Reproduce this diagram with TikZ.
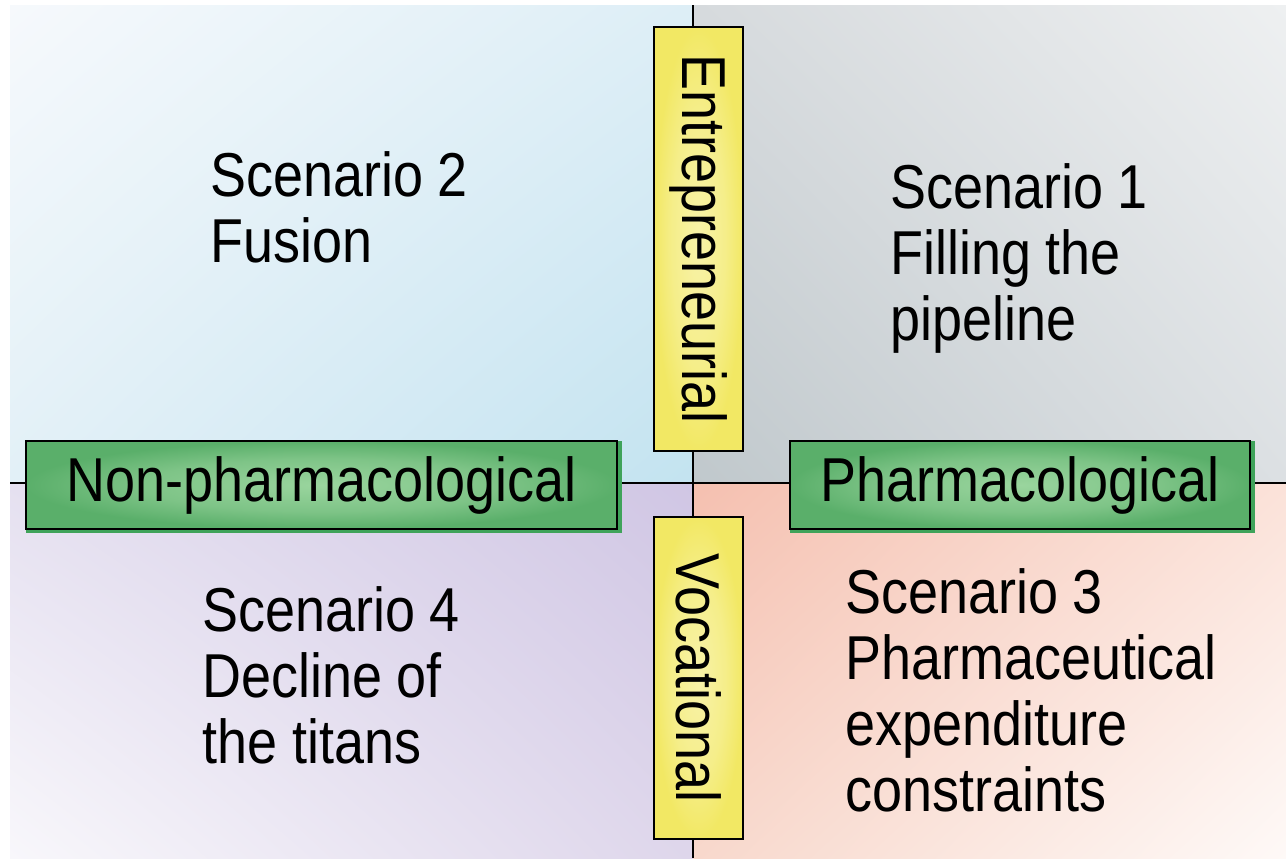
\documentclass[tikz,border=0pt]{standalone}
\usepackage{fontspec}
\usetikzlibrary{shadings}
\setmainfont[FakeStretch=0.87]{Liberation Sans}
\definecolor{tlUL}{HTML}{F6F9FC}
\definecolor{tlUR}{HTML}{DDEEF6}
\definecolor{tlLL}{HTML}{E2F0F7}
\definecolor{tlLR}{HTML}{C3E3F0}
\definecolor{trUL}{HTML}{D6DADD}
\definecolor{trUR}{HTML}{EEF0F1}
\definecolor{trLL}{HTML}{C0C8CC}
\definecolor{trLR}{HTML}{DCE0E3}
\definecolor{blUL}{HTML}{E5E0F0}
\definecolor{blUR}{HTML}{D0C6E4}
\definecolor{blLL}{HTML}{F8F7FB}
\definecolor{blLR}{HTML}{DED6EB}
\definecolor{brUL}{HTML}{F5C0B0}
\definecolor{brUR}{HTML}{FBE2D9}
\definecolor{brLL}{HTML}{F8D8CC}
\definecolor{brLR}{HTML}{FEF9F7}
\definecolor{gIn}{HTML}{9AD59E}
\definecolor{gMid}{HTML}{7EC487}
\definecolor{gEdge}{HTML}{5AAF6A}
\definecolor{gShadow}{HTML}{3FA35A}
\definecolor{yIn}{HTML}{F8F2A8}
\definecolor{yMid}{HTML}{F5EE8A}
\definecolor{yEdge}{HTML}{F2E864}
\pgfdeclareradialshading{greenglow}{\pgfpoint{0bp}{0bp}}{color(0bp)=(gIn); color(15bp)=(gMid); color(25bp)=(gEdge); color(50bp)=(gEdge)}
\pgfdeclareradialshading{yellowglow}{\pgfpoint{0bp}{0bp}}{color(0bp)=(yIn); color(15bp)=(yMid); color(25bp)=(yEdge); color(50bp)=(yEdge)}
\begin{document}
\begin{tikzpicture}[x=1pt,y=-1pt,
  axisline/.style={draw=black, line width=1.5pt},
  bigfont/.style={font=\fontsize{62}{66}\selectfont},
  greenbox/.style={draw=black, line width=2pt, shading=greenglow, inner sep=0pt, bigfont},
  yellowbox/.style={draw=black, line width=2pt, shading=yellowglow, inner sep=0pt, bigfont, rotate=-90},
  scen/.style={align=left, anchor=base west, inner sep=0pt, bigfont, text=black}
]
\useasboundingbox (0,0) rectangle (1286,868);
% quadrants
\shade[upper left=tlUL, upper right=tlUR, lower left=tlLL, lower right=tlLR] (10,5) rectangle (693,483);
\shade[upper left=trUL, upper right=trUR, lower left=trLL, lower right=trLR] (693,5) rectangle (1286,483);
\shade[upper left=blUL, upper right=blUR, lower left=blLL, lower right=blLR] (10,483) rectangle (693,858);
\shade[upper left=brUL, upper right=brUR, lower left=brLL, lower right=brLR] (693,483) rectangle (1286,858);
% axes
\coordinate (ctop) at (693,5);
\coordinate (cbot) at (693,858);
\coordinate (cleft) at (10,483);
\coordinate (cright) at (1286,483);
\draw[axisline] (ctop) -- (cbot);
\draw[axisline] (cleft) -- (cright);
% vertical labels
\node[yellowbox, minimum width=424pt, minimum height=89pt] (entre) at (698.5,239) {Entrepreneurial};
\node[yellowbox, minimum width=322pt, minimum height=89pt] (voc) at (698.5,678) {Vocational};
% horizontal labels with shadows
\fill[gShadow] (26,441) rectangle (622,533);
\node[greenbox, minimum width=591pt, minimum height=88pt] (nonph) at (321.5,485) {Non-pharmacological};
\fill[gShadow] (790,441) rectangle (1255,533);
\node[greenbox, minimum width=460pt, minimum height=88pt] (pharm) at (1020,485) {Pharmacological};
% scenario texts (anchored at the baseline of their last line)
\node[scen] (s2) at (210,262) {Scenario 2\\Fusion};
\node[scen] (s1) at (890,340) {Scenario 1\\Filling the\\pipeline};
\node[scen] (s3) at (845,811) {Scenario 3\\Pharmaceutical\\expenditure\\constraints};
\node[scen] (s4) at (202,763) {Scenario 4\\Decline of\\the titans};
\end{tikzpicture}
\end{document}
